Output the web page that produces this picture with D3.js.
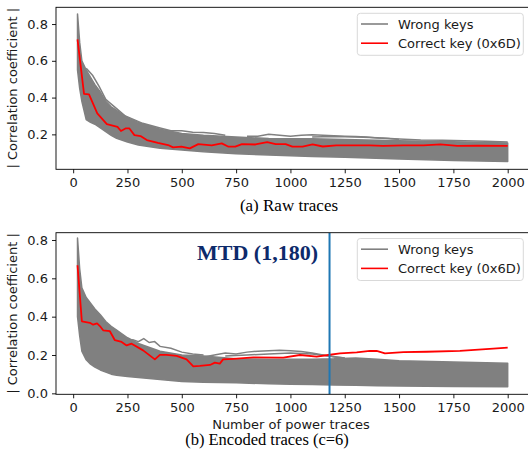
<!DOCTYPE html>
<html><head><meta charset="utf-8">
<script src="https://cdn.jsdelivr.net/npm/d3@7"></script>
<style>
html,body{margin:0;padding:0;background:#fff;}
svg{display:block;}
</style></head>
<body><svg id="c" width="528" height="460"></svg>
<script>
// ---------- data ----------
const xTicks = [0,250,500,750,1000,1250,1500,1750,2000];
const yTicksTop = [0.2,0.4,0.6,0.8];
const yTicksBottom = [0.0,0.2,0.4,0.6,0.8];
const legendLabels = ["Wrong keys","Correct key (0x6D)"];
const captions = ["(a) Raw traces","(b) Encoded traces (c=6)"];
const yLabel = "| Correlation coefficient |";
const xLabel = "Number of power traces";
const mtdValue = 1180;
const mtdLabel = "MTD (1,180)";

// (a) raw traces – correct key
const rawCorrectX = [20,50,73,111,155,204,220,243,258,282,310,339,390,437,460,498,537,576,638,684,715,746,777,839,893,932,978,1009,1056,1102,1149,1211,1365,1427,1520,1613,1690,1768,1861,2000];
const rawCorrectY = [0.717,0.42,0.417,0.314,0.256,0.241,0.218,0.233,0.233,0.196,0.191,0.169,0.154,0.142,0.129,0.133,0.124,0.147,0.14,0.151,0.133,0.133,0.147,0.145,0.158,0.147,0.147,0.133,0.133,0.145,0.134,0.14,0.14,0.137,0.14,0.14,0.145,0.137,0.139,0.137];
// (a) raw traces – wrong keys envelope
const rawBandX     = [20,30,40,60,80,100,125,150,175,200,250,300,400,500,600,750,900,1000,1100,1250,1500,1750,2000];
const rawBandUpper = [0.855,0.70,0.60,0.55,0.51,0.47,0.43,0.38,0.35,0.33,0.29,0.265,0.228,0.205,0.195,0.185,0.178,0.176,0.176,0.172,0.165,0.16,0.153];
const rawBandLower = [0.55,0.45,0.38,0.28,0.265,0.255,0.235,0.215,0.195,0.178,0.158,0.142,0.124,0.115,0.105,0.095,0.088,0.084,0.08,0.075,0.066,0.058,0.052];
// (a) raw traces – wrong keys standing out of the band
const rawOut1X = [60,90,120,150,170,200,240,280,320,400,450,500,550,600,650,700];
const rawOut1Y = [0.56,0.52,0.46,0.39,0.37,0.34,0.30,0.28,0.26,0.235,0.22,0.22,0.212,0.21,0.205,0.195];
const rawOut2X = [800,850,900,950,1000,1050,1100,1150,1200,1250,1300,1350,1400,1450,1500];
const rawOut2Y = [0.19,0.19,0.2,0.195,0.19,0.195,0.198,0.195,0.192,0.19,0.188,0.185,0.18,0.178,0.172];
const rawOut3X = [1100,1200,1300,1400,1500,1600,1700,1800,1900,2000];
const rawOut3Y = [0.185,0.188,0.185,0.182,0.175,0.17,0.168,0.165,0.162,0.158];

// (b) encoded traces – correct key
const encCorrectX = [20,40,77,92,110,123,138,169,192,223,246,269,322,376,399,430,476,522,553,583,630,652,675,690,737,829,967,1044,1121,1174,1228,1305,1366,1397,1435,1520,1627,1780,1934,2000];
const encCorrectY = [0.668,0.376,0.368,0.358,0.365,0.351,0.329,0.324,0.277,0.268,0.25,0.259,0.224,0.177,0.201,0.201,0.195,0.177,0.141,0.143,0.148,0.16,0.155,0.177,0.18,0.188,0.186,0.2,0.191,0.2,0.209,0.214,0.222,0.221,0.209,0.215,0.217,0.222,0.233,0.238];
// (b) encoded traces – wrong keys envelope
const encBandX     = [20,30,40,60,80,100,125,150,175,200,250,300,400,500,600,750,900,1000,1100,1200,1300,1400,1500,1750,2000];
const encBandUpper = [0.81,0.65,0.55,0.50,0.47,0.44,0.41,0.375,0.35,0.33,0.29,0.26,0.22,0.20,0.195,0.18,0.178,0.178,0.178,0.18,0.185,0.178,0.17,0.163,0.157];
const encBandLower = [0.40,0.30,0.22,0.175,0.152,0.137,0.122,0.111,0.10,0.094,0.088,0.082,0.072,0.062,0.058,0.055,0.05,0.048,0.046,0.044,0.042,0.04,0.038,0.036,0.035];
// (b) encoded traces – wrong keys standing out of the band
const encOut1X = [200,250,275,300,325,350,375,400,450,500,550,600];
const encOut1Y = [0.30,0.275,0.28,0.27,0.285,0.265,0.27,0.245,0.235,0.215,0.205,0.2];
const encOut2X = [600,650,700,750,800,850,900,950,1000,1050,1100,1150,1200,1250];
const encOut2Y = [0.19,0.2,0.21,0.205,0.215,0.22,0.222,0.225,0.222,0.218,0.21,0.2,0.19,0.185];
const encOut3X = [700,800,900,1000,1100,1180,1250];
const encOut3Y = [0.195,0.2,0.205,0.21,0.205,0.195,0.185];

// ---------- drawing ----------
const svg = d3.select("#c");
const GRAY = "#808080", RED = "#ff0000";
const SANS = "'DejaVu Sans',sans-serif";
const SERIF = "'Liberation Serif','Times New Roman',serif";
const FS = 13;

function panel(cfg){
  const g = svg.append("g");
  const x = d3.scaleLinear().domain([-79,2099]).range([56,529.2]);
  const y = d3.scaleLinear().domain(cfg.yDomain).range([cfg.bottom, cfg.top]);
  const id = "clip"+cfg.key;
  svg.append("clipPath").attr("id",id).append("rect")
    .attr("x",56).attr("y",cfg.top).attr("width",529.2-56).attr("height",cfg.bottom-cfg.top);
  const plot = g.append("g").attr("clip-path",`url(#${id})`);

  const band = cfg.bandX.map((v,i)=>({x:v,u:cfg.bandU[i],l:cfg.bandL[i]}));
  plot.append("path").datum(band)
    .attr("d", d3.area().x(d=>x(d.x)).y0(d=>y(d.l)).y1(d=>y(d.u)))
    .attr("fill",GRAY).attr("stroke",GRAY).attr("stroke-width",1.5).attr("stroke-linejoin","round");
  const line = d3.line().x(d=>x(d[0])).y(d=>y(d[1]));
  cfg.outliers.forEach(o=>{
    plot.append("path").datum(o[0].map((v,i)=>[v,o[1][i]]))
      .attr("d",line).attr("fill","none").attr("stroke",GRAY).attr("stroke-width",1.5);
  });
  plot.append("path").datum(cfg.cx.map((v,i)=>[v,cfg.cy[i]]))
    .attr("d",line).attr("fill","none").attr("stroke",RED).attr("stroke-width",1.8).attr("stroke-linejoin","round");

  if (cfg.mtd) {
    plot.append("line").attr("x1",x(mtdValue)).attr("x2",x(mtdValue))
      .attr("y1",cfg.top).attr("y2",cfg.bottom).attr("stroke","#1f77b4").attr("stroke-width",2);
    g.append("text").attr("x",197).attr("y",259.5).text(mtdLabel)
      .style("font-family",SERIF).style("font-weight","bold")
      .style("font-size","22px").attr("fill","#0d2a6b");
  }

  // frame
  g.append("rect").attr("x",56).attr("y",cfg.top).attr("width",529.2-56).attr("height",cfg.bottom-cfg.top)
    .attr("fill","none").attr("stroke","#000").attr("stroke-width",0.9);

  const xa = g.append("g").attr("transform",`translate(0,${cfg.bottom})`)
    .call(d3.axisBottom(x).tickValues(xTicks).tickFormat(d3.format("d")).tickSize(4).tickPadding(4));
  const ya = g.append("g").attr("transform",`translate(56,0)`)
    .call(d3.axisLeft(y).tickValues(cfg.yTicks).tickFormat(d3.format(".1f")).tickSize(4).tickPadding(4));
  [xa,ya].forEach(a=>{
    a.select(".domain").remove();
    a.selectAll("text").style("font-family",SANS).style("font-size",FS+"px").attr("fill","#1a1a1a");
    a.selectAll("line").attr("stroke","#000").attr("stroke-width",0.9);
  });

  g.append("text").attr("transform",`translate(17,${(cfg.top+cfg.bottom)/2}) rotate(-90)`)
    .attr("text-anchor","middle").style("font-family",SANS).style("font-size",FS+"px").attr("fill","#1a1a1a").text(yLabel);

  // legend
  const lg = g.append("g");
  lg.append("rect").attr("x",357.3).attr("y",cfg.legTop).attr("width",166).attr("height",42)
    .attr("rx",3).attr("fill","#fff").attr("fill-opacity",0.8).attr("stroke","#d5d5d5").attr("stroke-width",0.9);
  [GRAY,RED].forEach((c,i)=>{
    const ly = cfg.legTop + 10.7 + i*19.2;
    lg.append("line").attr("x1",361).attr("x2",388).attr("y1",ly).attr("y2",ly)
      .attr("stroke",c).attr("stroke-width",1.6);
    lg.append("text").attr("x",398).attr("y",ly+4.6).style("font-family",SANS).style("font-size",FS+"px")
      .attr("fill","#1a1a1a").text(legendLabels[i]);
  });
  return {x,y,g};
}

panel({key:"a", top:7.3, bottom:169.3, yDomain:[0.01,0.891], yTicks:yTicksTop,
  bandX:rawBandX, bandU:rawBandUpper, bandL:rawBandLower,
  outliers:[[rawOut1X,rawOut1Y],[rawOut2X,rawOut2Y],[rawOut3X,rawOut3Y]],
  cx:rawCorrectX, cy:rawCorrectY, legTop:13.3, mtd:false});

panel({key:"b", top:232.7, bottom:394.3, yDomain:[-0.005,0.838], yTicks:yTicksBottom,
  bandX:encBandX, bandU:encBandUpper, bandL:encBandLower,
  outliers:[[encOut1X,encOut1Y],[encOut2X,encOut2Y],[encOut3X,encOut3Y]],
  cx:encCorrectX, cy:encCorrectY, legTop:238.5, mtd:true});

svg.append("text").attr("x",291).attr("y",428.5).attr("text-anchor","middle")
  .style("font-family",SANS).style("font-size",FS+"px").attr("fill","#1a1a1a").text(xLabel);

svg.append("text").attr("x",289).attr("y",211).attr("text-anchor","middle")
  .style("font-family",SERIF).style("font-size","17px").attr("fill","#000").text(captions[0]);
svg.append("text").attr("x",267).attr("y",445).attr("text-anchor","middle")
  .style("font-family",SERIF).style("font-size","16.5px").attr("fill","#000").text(captions[1]);
</script></body></html>
